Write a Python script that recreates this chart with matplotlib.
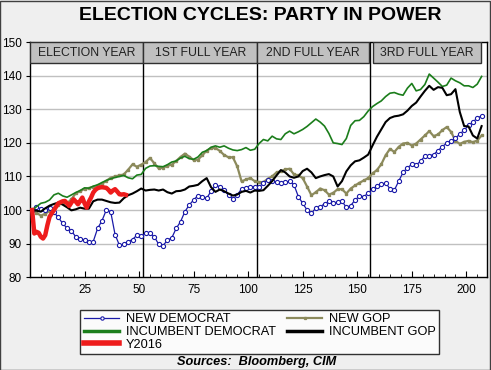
import matplotlib
matplotlib.use("Agg")
import matplotlib.pyplot as plt
from matplotlib.patches import Rectangle
import numpy as np

plt.rcParams['font.family'] = ['Liberation Sans', 'DejaVu Sans']

# weekly index, sampled every 2 weeks for the long series
weeks = list(range(1, 208, 2))

new_dem = [100.0, 101.0, 100.3, 100.0, 100.5, 99.3, 97.8, 96.0, 94.6, 93.8,
           92.0, 91.5, 91.0, 90.4, 90.6, 94.5, 96.8, 100.0, 99.5, 92.7,
           89.5, 89.8, 90.6, 91.2, 92.5, 92.3, 93.0, 93.2, 92.0, 89.8,
           89.4, 91.0, 91.7, 94.5, 96.5, 99.5, 101.5, 103.0, 104.3, 104.0,
           103.5, 105.6, 107.3, 107.0, 106.0, 104.4, 103.3, 104.5, 106.3, 106.6,
           107.0, 106.9, 107.0, 107.9, 109.0, 108.7, 108.3, 107.9, 108.3, 108.6,
           107.5, 104.0, 102.0, 100.0, 99.0, 100.6, 101.0, 101.8, 102.6, 102.0,
           102.4, 102.6, 100.8, 101.3, 103.0, 104.1, 104.0, 105.0, 106.2, 107.1,
           107.6, 108.1, 106.3, 105.9, 108.6, 111.2, 112.6, 113.6, 113.4, 114.5,
           116.1, 116.2, 116.5, 117.7, 118.9, 119.9, 120.6, 121.4, 122.6, 123.8,
           125.2, 126.2, 127.4, 128.0]

inc_dem = [100.0, 101.0, 102.0, 102.3, 103.0, 104.5, 105.0, 104.2, 103.8, 104.5,
           105.2, 105.8, 106.6, 106.5, 107.1, 107.5, 108.2, 108.8, 109.3, 109.7,
           110.0, 110.3, 109.6, 109.3, 110.4, 110.6, 112.4, 113.1, 113.2, 113.0,
           112.9, 113.5, 114.3, 114.6, 115.5, 116.0, 115.3, 115.1, 115.8, 117.2,
           117.7, 118.7, 119.1, 118.7, 119.1, 118.4, 117.9, 117.7, 118.0, 118.6,
           117.8, 118.1, 119.8, 121.0, 120.6, 122.0, 121.2, 121.0, 122.7, 123.5,
           122.7, 123.3, 124.0, 124.9, 126.0, 127.1, 126.2, 125.0, 122.8, 120.0,
           119.8, 119.5, 121.3, 125.2, 126.6, 126.7, 127.8, 129.5, 130.8, 131.7,
           132.5, 133.8, 134.8, 135.0, 134.5, 134.2, 136.3, 137.7, 135.5, 135.9,
           137.4, 140.5, 139.3, 138.1, 136.8, 137.2, 139.3, 138.5, 137.9, 137.0,
           137.0, 136.5, 137.5, 139.8]

inc_gop = [100.0, 99.8, 99.5, 100.5, 101.3, 101.8, 102.2, 101.6, 100.8, 99.9,
           100.2, 100.7, 100.4, 100.4, 102.6, 103.1, 103.1, 102.7, 102.3, 102.1,
           102.2, 103.5, 104.4, 104.9, 105.6, 106.4, 105.8, 106.0, 106.1, 105.8,
           106.1, 105.3, 104.9, 105.6, 105.7, 106.1, 107.0, 107.2, 107.5, 108.6,
           109.5, 106.8, 105.4, 106.1, 105.6, 104.9, 104.3, 104.6, 105.4, 105.7,
           105.2, 105.8, 105.7, 105.9, 107.2, 108.6, 110.3, 111.9, 111.2, 110.0,
           109.6, 110.0, 111.6, 112.3, 111.2, 109.5, 110.0, 110.4, 110.7, 110.0,
           107.0, 108.6, 111.5, 113.3, 114.5, 114.8, 115.6, 116.5, 119.2, 121.8,
           124.0, 126.2, 127.4, 127.9, 128.1, 128.5, 129.6, 131.0, 132.0, 133.8,
           135.5, 137.0, 135.8, 136.6, 136.4, 134.2, 134.5, 136.0, 129.2, 125.0,
           124.9, 122.2, 121.3, 125.0]

new_gop = [100.0, 99.2, 98.3, 98.9, 99.7, 100.5, 101.4, 102.2, 102.0, 103.2,
           105.0, 105.6, 106.3, 106.5, 106.9, 107.3, 107.8, 108.7, 109.6, 110.0,
           110.3, 110.6, 112.0, 113.6, 112.9, 113.5, 114.3, 115.5, 113.9, 112.4,
           112.6, 113.2, 113.5, 114.6, 115.8, 116.8, 115.9, 114.9, 115.0, 116.3,
           117.7, 118.4, 118.5, 117.6, 116.4, 115.7, 115.7, 113.0, 108.5, 109.1,
           109.5, 108.6, 108.3, 108.3, 109.3, 110.0, 111.2, 111.5, 112.1, 112.3,
           110.6, 110.3, 109.5, 107.0, 104.4, 105.3, 106.4, 105.9, 104.6, 105.1,
           106.2, 106.2, 104.9, 106.4, 107.3, 108.1, 108.8, 109.5, 110.9, 111.9,
           113.6, 116.3, 118.2, 117.3, 118.8, 119.8, 120.0, 119.2, 119.8, 121.0,
           122.2, 123.5, 122.0, 122.5, 123.8, 124.7, 123.3, 120.6, 119.7, 120.3,
           120.6, 120.2, 120.7, 122.2]

# current cycle, weekly
weeks_2016 = list(range(1, 45))
y2016 = [100.0, 93.0, 93.5, 93.2, 92.0, 91.5, 92.5, 95.5, 98.0, 99.0,
         100.0, 101.0, 102.0, 102.3, 102.6, 102.7, 102.0, 101.2, 102.2, 103.2,
         102.5, 101.7, 102.7, 103.7, 102.0, 100.7, 102.5, 103.7, 105.2, 106.0,
         106.5, 106.7, 106.8, 106.7, 106.6, 106.0, 105.2, 105.8, 106.2, 105.5,
         104.7, 104.6, 104.7, 104.5]

year_labels = ["ELECTION YEAR", "1ST FULL YEAR", "2ND FULL YEAR", "3RD FULL YEAR"]
year_spans = [(0, 52), (52, 104), (104, 155.6), (157.3, 206.8)]

fig = plt.figure(figsize=(4.91, 3.70), dpi=100, facecolor='#efefef')
ax = fig.add_axes([0.061, 0.251, 0.931, 0.635])
ax.set_facecolor('white')

for yv in range(90, 150, 10):
    ax.axhline(yv, color='#c0c0c0', lw=1, zorder=1)
for xv in (52, 104, 156):
    ax.axvline(xv, color='black', lw=1, zorder=2)

ax.plot(weeks, new_gop, color='#8c8a5c', lw=1.6, marker='s', ms=1.7, zorder=3,
        label='NEW GOP')
ax.plot(weeks, new_dem, color='#1a1aa8', lw=0.9, marker='o', ms=3,
        mfc='white', mec='#1a1aa8', mew=0.8, zorder=4, label='NEW DEMOCRAT')
ax.plot(weeks, inc_dem, color='#1b7d1b', lw=1.2, zorder=5,
        label='INCUMBENT DEMOCRAT')
ax.plot(weeks, inc_gop, color='black', lw=1.5, zorder=6, label='INCUMBENT GOP')
ax.plot(weeks_2016, y2016, color='#ee1c1c', lw=3.2, zorder=7, label='Y2016')

for (x0, x1), lab in zip(year_spans, year_labels):
    ax.add_patch(Rectangle((x0, 143.7), x1 - x0, 6.3, facecolor='#c0c0c0',
                           edgecolor='#303030', lw=1, zorder=8))
    ax.text((x0 + x1) / 2, 146.85, lab, ha='center', va='center',
            fontsize=8.8, color='#202020', zorder=9)

ax.set_xlim(0, 209.5)
ax.set_ylim(80, 150)
ax.set_xticks(range(25, 201, 25))
ax.set_xticks(range(5, 210, 5), minor=True)
ax.set_yticks(range(80, 151, 10))
ax.tick_params(axis='x', direction='in', length=4, labelsize=8.5, pad=5)
ax.tick_params(axis='x', which='minor', direction='in', length=2)
ax.tick_params(axis='y', direction='out', length=3, labelsize=8.5, pad=3)
for sp in ax.spines.values():
    sp.set_color('black')
    sp.set_linewidth(1)

fig.text(0.53, 0.947, "ELECTION CYCLES: PARTY IN POWER", ha='center',
         va='baseline', fontsize=14, fontweight='bold')

handles, labels = ax.get_legend_handles_labels()
order = ['NEW DEMOCRAT', 'INCUMBENT DEMOCRAT', 'Y2016', 'NEW GOP', 'INCUMBENT GOP']
hmap = dict(zip(labels, handles))
leg = fig.legend([hmap[k] for k in order], order, ncol=2, loc='center',
                 bbox_to_anchor=(0.5295, 0.1027), fontsize=9.2, frameon=True,
                 fancybox=False, edgecolor='black', handlelength=2.7,
                 handletextpad=0.55, columnspacing=0.9, labelspacing=0.05,
                 borderpad=0.3, markerscale=0.8)
leg.get_frame().set_linewidth(1)
leg.get_frame().set_facecolor('white')
for line in leg.get_lines():
    if line.get_label() in ('INCUMBENT DEMOCRAT', 'INCUMBENT GOP'):
        line.set_linewidth(2.5)
    if line.get_label() == 'Y2016':
        line.set_linewidth(4)

fig.text(0.522, 0.0225, "Sources:  Bloomberg, CIM", ha='center', va='center',
         fontsize=9.2, fontweight='bold', style='italic')

fig.add_artist(Rectangle((0.001, 0.001), 0.997, 0.996, transform=fig.transFigure,
                         fill=False, edgecolor='#404040', lw=1))

fig.savefig('out.png', dpi=100, facecolor=fig.get_facecolor())
